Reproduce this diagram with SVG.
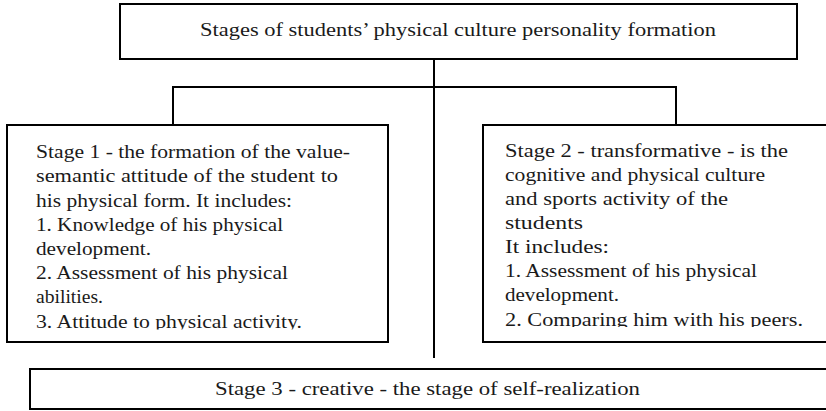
<svg xmlns="http://www.w3.org/2000/svg" width="826" height="411" viewBox="0 0 826 411">
<style>
.box{fill:#fff;stroke:#000;stroke-width:2}
.ln{fill:none;stroke:#000;stroke-width:2}
text{font-family:"Liberation Serif","Times New Roman",serif;font-size:19px;fill:#1a1a1a}
</style>
<defs>
<clipPath id="c1"><rect x="8" y="126" width="379" height="203.5"/></clipPath>
<clipPath id="c2"><rect x="484" y="126" width="342" height="201"/></clipPath>
</defs>
<rect width="826" height="411" fill="#fff"/>
<g id="connectors">
<line class="ln" x1="434" y1="59" x2="434" y2="358"/>
<polyline class="ln" points="173,125 173,87 676,87 676,125"/>
</g>
<g id="title">
<rect class="box" x="120" y="4" width="677" height="55"/>
<text x="200" y="36" textLength="516" lengthAdjust="spacingAndGlyphs">Stages of students’ physical culture personality formation</text>
</g>
<g id="stage1">
<rect class="box" x="7" y="125" width="381" height="217"/>
<g clip-path="url(#c1)">
<text x="36" y="158" textLength="314" lengthAdjust="spacingAndGlyphs">Stage 1 - the formation of the value-</text>
<text x="36" y="182.3" textLength="302" lengthAdjust="spacingAndGlyphs">semantic attitude of the student to</text>
<text x="36" y="206.5" textLength="256" lengthAdjust="spacingAndGlyphs">his physical form. It includes:</text>
<text x="36" y="230.7" textLength="247" lengthAdjust="spacingAndGlyphs">1. Knowledge of his physical</text>
<text x="36" y="254.9" textLength="115" lengthAdjust="spacingAndGlyphs">development.</text>
<text x="36" y="279.1" textLength="252" lengthAdjust="spacingAndGlyphs">2. Assessment of his physical</text>
<text x="36" y="303.3" textLength="67" lengthAdjust="spacingAndGlyphs">abilities.</text>
<text x="36" y="328" textLength="266" lengthAdjust="spacingAndGlyphs">3. Attitude to physical activity.</text>
</g>
</g>
<g id="stage2">
<rect class="box" x="483" y="125" width="360" height="217"/>
<g clip-path="url(#c2)">
<text x="505" y="157" textLength="283" lengthAdjust="spacingAndGlyphs">Stage 2 - transformative - is the</text>
<text x="505" y="181" textLength="260" lengthAdjust="spacingAndGlyphs">cognitive and physical culture</text>
<text x="505" y="204.7" textLength="223" lengthAdjust="spacingAndGlyphs">and sports activity of the</text>
<text x="505" y="228.6" textLength="78" lengthAdjust="spacingAndGlyphs">students</text>
<text x="505" y="252.8" textLength="104" lengthAdjust="spacingAndGlyphs">It includes:</text>
<text x="505" y="276.8" textLength="252" lengthAdjust="spacingAndGlyphs">1. Assessment of his physical</text>
<text x="505" y="300.8" textLength="114" lengthAdjust="spacingAndGlyphs">development.</text>
<text x="505" y="325.5" textLength="298" lengthAdjust="spacingAndGlyphs">2. Comparing him with his peers.</text>
</g>
</g>
<g id="stage3">
<rect class="box" x="30" y="369" width="820" height="40"/>
<text x="215" y="395" textLength="425" lengthAdjust="spacingAndGlyphs">Stage 3 - creative - the stage of self-realization</text>
</g>
</svg>
